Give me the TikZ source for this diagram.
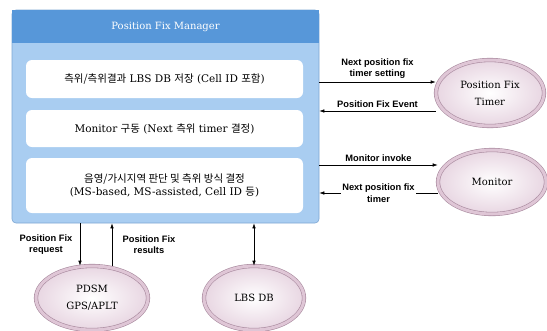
\documentclass[tikz,border=0pt]{standalone}
\usepackage{fontspec}
\setmainfont{DejaVu Serif}
\newfontfamily\labelfont{Liberation Sans}
\newfontfamily\krfont{Noto Sans CJK KR}
\newcommand{\hangul}[1]{{\krfont #1}}
\usetikzlibrary{arrows.meta,positioning,shapes.geometric}
\definecolor{mgrblue}{HTML}{A9CDF1}
\definecolor{hdrblue}{HTML}{5797D9}
\definecolor{mgredge}{HTML}{7DA6D3}
\definecolor{ringdark}{HTML}{A98B9F}
\definecolor{ringlight}{HTML}{DFC6D6}
\definecolor{ellfill}{HTML}{E8D6E2}

\begin{document}
\begin{tikzpicture}[x=1pt,y=-1pt,font=\fontsize{10.5}{13}\selectfont,
  >={Latex[length=5pt,width=3.5pt]},
  mgrbox/.style={fill=mgrblue,draw=mgredge,line width=0.6pt,rounded corners=4pt,
    minimum width=307pt,minimum height=213pt,inner sep=0pt},
  hdrbar/.style={fill=hdrblue,minimum width=307pt,minimum height=33pt,inner sep=0pt,
    text=white,font=\fontsize{10}{12}\selectfont},
  stepbox/.style={fill=white,rounded corners=6pt,minimum width=277pt,inner sep=0pt,align=center},
  proc/.style={ellipse,inner color=white,outer color=ellfill,draw=ringdark,line width=0.6pt,
    double=ringlight,double distance=3pt,align=center,inner sep=0pt,
    font=\fontsize{10}{12}\selectfont},
  lbl/.style={font=\labelfont\bfseries\fontsize{9.3}{10.5}\selectfont,align=center},
  flow/.style={->,line width=0.6pt}]
 \useasboundingbox (0,0) rectangle (547,330);
 % manager block with its three steps
 \node[mgrbox] (mgr) at (165.5,116.5) {};
 \node[hdrbar] (hdr) at (165.5,26.5) {Position Fix Manager};
 \node[stepbox,minimum height=38pt] (store) at (164.5,79)
   {\hangul{측위/측위결과} LBS DB \hangul{저장} (Cell ID \hangul{포함})};
 \node[stepbox,minimum height=37pt] (drive) at (164.5,128.5)
   {Monitor \hangul{구동} (Next \hangul{측위} timer \hangul{결정})};
 \node[stepbox,minimum height=55pt] (decide) at (164.5,185.5)
   {\hangul{음영/가시지역 판단 및 측위 방식 결정}\\(MS-based, MS-assisted, Cell ID \hangul{등})};
 % outside components
 \node[proc,minimum width=108pt,minimum height=66pt] (timer) at (490,93) {Position Fix\\[5pt]Timer};
 \node[proc,minimum width=108pt,minimum height=64pt] (monitor) at (492,182) {Monitor};
 \node[proc,minimum width=112pt,minimum height=64pt] (pdsm) at (92,298) {PDSM\\[5pt]GPS/APLT};
 \node[proc,minimum width=100pt,minimum height=64pt] (lbsdb) at (254,298) {LBS DB};
 % right side connectors
 \coordinate (t1) at ([yshift=11pt]timer.west);
 \coordinate (t2) at ([yshift=-18pt]timer.west);
 \coordinate (m1) at ([yshift=17pt]monitor.west);
 \coordinate (m2) at ([yshift=-11pt]monitor.west);
 \draw[flow] (mgr.east |- t1) -- (t1) node[lbl,midway,above] {Next position fix\\timer setting};
 \draw[flow] (t2) -- (mgr.east |- t2) node[lbl,midway,above] {Position Fix Event};
 \draw[flow] (mgr.east |- m1) -- (m1) node[lbl,midway,above] {Monitor invoke};
 \draw[flow] (m2) -- (mgr.east |- m2)
   node[lbl,midway,fill=white,inner sep=1pt] {Next position fix\\[2pt]timer};
 % bottom connectors
 \coordinate (p1) at ([xshift=-12pt]pdsm.north);
 \coordinate (p2) at ([xshift=20pt]pdsm.north);
 \draw[flow] (p1 |- mgr.south) -- (p1) node[lbl,midway,left=4pt] {Position Fix\\request};
 \draw[flow] (p2) -- (p2 |- mgr.south) node[lbl,midway,right=7pt] {Position Fix\\results};
 \draw[flow,<->] (lbsdb.north |- mgr.south) -- (lbsdb.north);
\end{tikzpicture}
\end{document}
